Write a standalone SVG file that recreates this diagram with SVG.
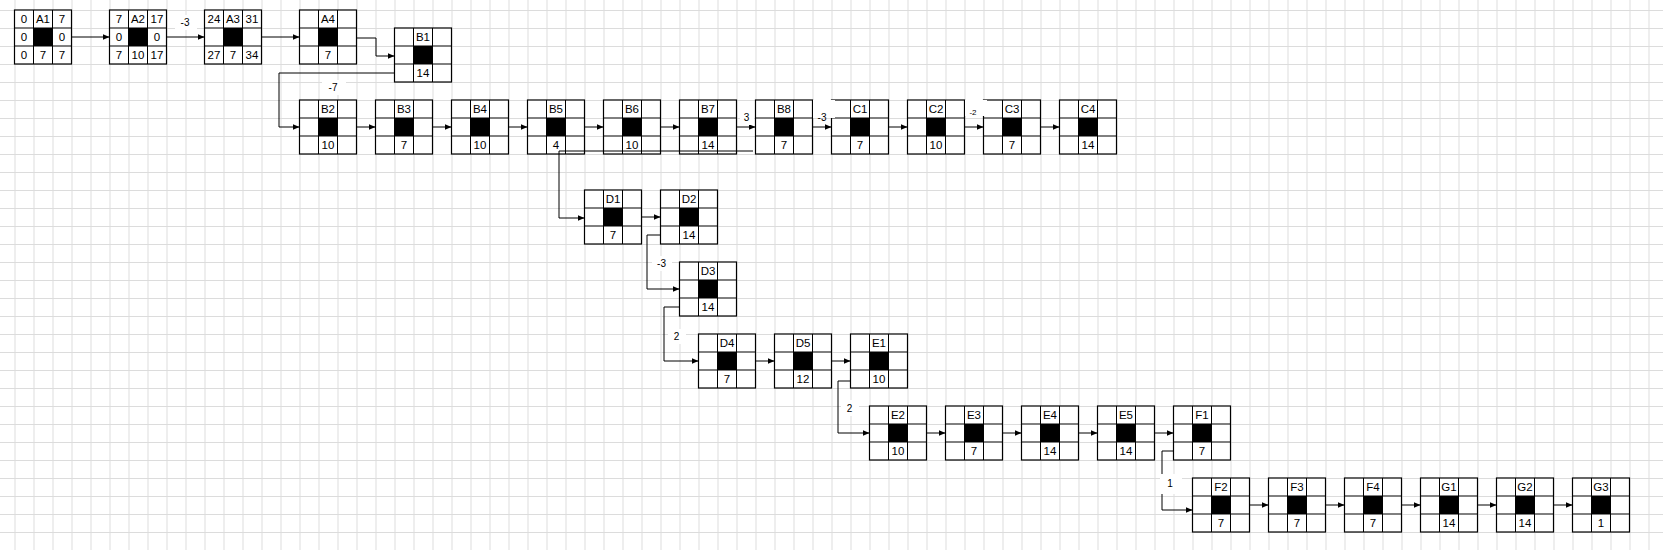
<svg xmlns="http://www.w3.org/2000/svg" xmlns:xlink="http://www.w3.org/1999/xlink" width="1663" height="550" viewBox="0 0 1663 550">
<style>
text{font-family:"Liberation Sans",Arial,sans-serif;font-size:11.5px;text-anchor:middle;fill:#000}
.lb{font-size:10px}
.c{fill:none;stroke:#000;stroke-width:1;marker-end:url(#ar)}
.bg{fill:#fff}
</style>
<defs>
<pattern id="grid" x="14.5" y="10" width="19" height="18" patternUnits="userSpaceOnUse">
<path d="M0.5 0V18M0 0.5H19" stroke="#dcdcdc" stroke-width="1" fill="none"/>
</pattern>
<marker id="ar" markerWidth="7" markerHeight="6" refX="7" refY="3" orient="auto" markerUnits="userSpaceOnUse">
<path d="M0 0L7 3L0 6z" fill="#000"/>
</marker>
<g id="box">
<rect x="0" y="0" width="57" height="54" fill="#fff" stroke="#000" stroke-width="1.2"/>
<path d="M19 0V54M38 0V54M0 18H57M0 36H57" stroke="#000" stroke-width="1"/>
<rect x="19" y="18" width="19" height="18" fill="#000"/>
</g>
</defs>
<rect width="1663" height="550" fill="#fff"/>
<rect width="1663" height="550" fill="url(#grid)"/>

<g id="A1" transform="translate(14.5,10)"><use href="#box"/><text x="9.5" y="13">0</text><text x="28.5" y="13">A1</text><text x="47.5" y="13">7</text><text x="9.5" y="31">0</text><text x="47.5" y="31">0</text><text x="9.5" y="49">0</text><text x="28.5" y="49">7</text><text x="47.5" y="49">7</text></g>
<g id="A2" transform="translate(109.5,10)"><use href="#box"/><text x="9.5" y="13">7</text><text x="28.5" y="13">A2</text><text x="47.5" y="13">17</text><text x="9.5" y="31">0</text><text x="47.5" y="31">0</text><text x="9.5" y="49">7</text><text x="28.5" y="49">10</text><text x="47.5" y="49">17</text></g>
<g id="A3" transform="translate(204.5,10)"><use href="#box"/><text x="9.5" y="13">24</text><text x="28.5" y="13">A3</text><text x="47.5" y="13">31</text><text x="9.5" y="49">27</text><text x="28.5" y="49">7</text><text x="47.5" y="49">34</text></g>
<g id="A4" transform="translate(299.5,10)"><use href="#box"/><text x="28.5" y="13">A4</text><text x="28.5" y="49">7</text></g>
<g id="B1" transform="translate(394.5,28)"><use href="#box"/><text x="28.5" y="13">B1</text><text x="28.5" y="49">14</text></g>
<g id="B2" transform="translate(299.5,100)"><use href="#box"/><text x="28.5" y="13">B2</text><text x="28.5" y="49">10</text></g>
<g id="B3" transform="translate(375.5,100)"><use href="#box"/><text x="28.5" y="13">B3</text><text x="28.5" y="49">7</text></g>
<g id="B4" transform="translate(451.5,100)"><use href="#box"/><text x="28.5" y="13">B4</text><text x="28.5" y="49">10</text></g>
<g id="B5" transform="translate(527.5,100)"><use href="#box"/><text x="28.5" y="13">B5</text><text x="28.5" y="49">4</text></g>
<g id="B6" transform="translate(603.5,100)"><use href="#box"/><text x="28.5" y="13">B6</text><text x="28.5" y="49">10</text></g>
<g id="B7" transform="translate(679.5,100)"><use href="#box"/><text x="28.5" y="13">B7</text><text x="28.5" y="49">14</text></g>
<g id="B8" transform="translate(755.5,100)"><use href="#box"/><text x="28.5" y="13">B8</text><text x="28.5" y="49">7</text></g>
<g id="C1" transform="translate(831.5,100)"><use href="#box"/><text x="28.5" y="13">C1</text><text x="28.5" y="49">7</text></g>
<g id="C2" transform="translate(907.5,100)"><use href="#box"/><text x="28.5" y="13">C2</text><text x="28.5" y="49">10</text></g>
<g id="C3" transform="translate(983.5,100)"><use href="#box"/><text x="28.5" y="13">C3</text><text x="28.5" y="49">7</text></g>
<g id="C4" transform="translate(1059.5,100)"><use href="#box"/><text x="28.5" y="13">C4</text><text x="28.5" y="49">14</text></g>
<g id="D1" transform="translate(584.5,190)"><use href="#box"/><text x="28.5" y="13">D1</text><text x="28.5" y="49">7</text></g>
<g id="D2" transform="translate(660.5,190)"><use href="#box"/><text x="28.5" y="13">D2</text><text x="28.5" y="49">14</text></g>
<g id="D3" transform="translate(679.5,262)"><use href="#box"/><text x="28.5" y="13">D3</text><text x="28.5" y="49">14</text></g>
<g id="D4" transform="translate(698.5,334)"><use href="#box"/><text x="28.5" y="13">D4</text><text x="28.5" y="49">7</text></g>
<g id="D5" transform="translate(774.5,334)"><use href="#box"/><text x="28.5" y="13">D5</text><text x="28.5" y="49">12</text></g>
<g id="E1" transform="translate(850.5,334)"><use href="#box"/><text x="28.5" y="13">E1</text><text x="28.5" y="49">10</text></g>
<g id="E2" transform="translate(869.5,406)"><use href="#box"/><text x="28.5" y="13">E2</text><text x="28.5" y="49">10</text></g>
<g id="E3" transform="translate(945.5,406)"><use href="#box"/><text x="28.5" y="13">E3</text><text x="28.5" y="49">7</text></g>
<g id="E4" transform="translate(1021.5,406)"><use href="#box"/><text x="28.5" y="13">E4</text><text x="28.5" y="49">14</text></g>
<g id="E5" transform="translate(1097.5,406)"><use href="#box"/><text x="28.5" y="13">E5</text><text x="28.5" y="49">14</text></g>
<g id="F1" transform="translate(1173.5,406)"><use href="#box"/><text x="28.5" y="13">F1</text><text x="28.5" y="49">7</text></g>
<g id="F2" transform="translate(1192.5,478)"><use href="#box"/><text x="28.5" y="13">F2</text><text x="28.5" y="49">7</text></g>
<g id="F3" transform="translate(1268.5,478)"><use href="#box"/><text x="28.5" y="13">F3</text><text x="28.5" y="49">7</text></g>
<g id="F4" transform="translate(1344.5,478)"><use href="#box"/><text x="28.5" y="13">F4</text><text x="28.5" y="49">7</text></g>
<g id="G1" transform="translate(1420.5,478)"><use href="#box"/><text x="28.5" y="13">G1</text><text x="28.5" y="49">14</text></g>
<g id="G2" transform="translate(1496.5,478)"><use href="#box"/><text x="28.5" y="13">G2</text><text x="28.5" y="49">14</text></g>
<g id="G3" transform="translate(1572.5,478)"><use href="#box"/><text x="28.5" y="13">G3</text><text x="28.5" y="49">1</text></g>

<g id="connectors">
<path class="c" d="M71.5 37H109.5"/>
<path class="c" d="M166.5 37H204.5"/>
<path class="c" d="M261.5 37H299.5"/>
<path class="c" d="M356.5 38H376V56H394.5"/>
<path class="c" d="M394.5 73H279V127H299.5"/>
<path class="c" d="M356.5 127H375.5"/>
<path class="c" d="M432.5 127H451.5"/>
<path class="c" d="M508.5 127H527.5"/>
<path class="c" d="M584.5 127H603.5"/>
<path class="c" d="M660.5 127H679.5"/>
<path class="c" d="M736.5 127H755.5"/>
<path class="c" d="M812.5 127H831.5"/>
<path class="c" d="M888.5 127H907.5"/>
<path class="c" d="M964.5 127H983.5"/>
<path class="c" d="M1040.5 127H1059.5"/>
<path class="c" d="M753 151H559V218H584.5"/>
<path class="c" d="M641.5 217H660.5"/>
<path class="c" d="M660.5 235H647V289H679.5"/>
<path class="c" d="M679.5 307H664V361H698.5"/>
<path class="c" d="M755.5 361H774.5"/>
<path class="c" d="M831.5 361H850.5"/>
<path class="c" d="M850.5 381H838V433H869.5"/>
<path class="c" d="M926.5 433H945.5"/>
<path class="c" d="M1002.5 433H1021.5"/>
<path class="c" d="M1078.5 433H1097.5"/>
<path class="c" d="M1154.5 433H1173.5"/>
<path class="c" d="M1173.5 451H1162V510H1192.5"/>
<path class="c" d="M1249.5 505H1268.5"/>
<path class="c" d="M1325.5 505H1344.5"/>
<path class="c" d="M1401.5 505H1420.5"/>
<path class="c" d="M1477.5 505H1496.5"/>
<path class="c" d="M1553.5 505H1572.5"/>
</g>

<g id="labels">
<rect class="bg" x="175" y="15" width="22" height="15"/><text class="lb" x="185" y="26">-3</text>
<rect class="bg" x="322" y="80" width="24" height="15"/><text class="lb" x="333" y="91">-7</text>
<rect class="bg" x="740" y="112" width="14" height="13"/><text class="lb" x="746.5" y="121">3</text>
<rect class="bg" x="813" y="100" width="22" height="18"/><text class="lb" x="822" y="121">-3</text>
<rect class="bg" x="965" y="100" width="22" height="16"/><text class="lb" x="973" y="115" style="font-size:8px">-2</text>
<rect class="bg" x="652" y="256" width="20" height="15"/><text class="lb" x="661.5" y="267">-3</text>
<rect class="bg" x="668" y="329" width="18" height="15"/><text class="lb" x="676.5" y="340">2</text>
<rect class="bg" x="841" y="400" width="18" height="16"/><text class="lb" x="849.5" y="412">2</text>
<rect class="bg" x="1160" y="474" width="22" height="20"/><text class="lb" x="1170" y="487">1</text>
</g>
</svg>
